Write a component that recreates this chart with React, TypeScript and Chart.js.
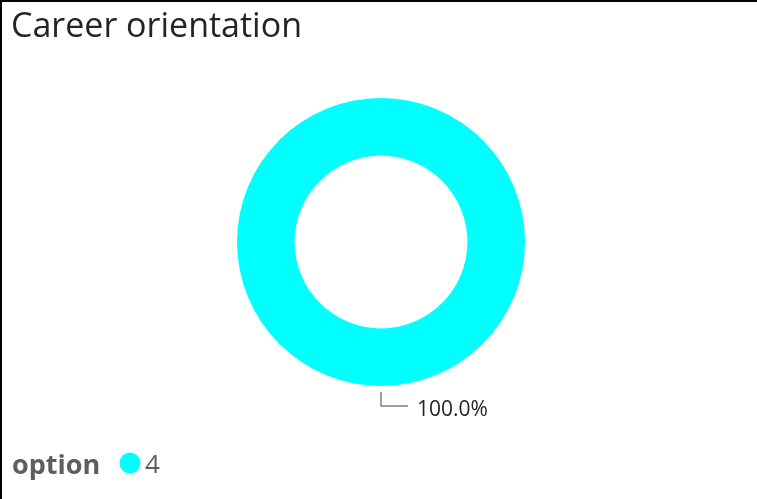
import React, { useEffect, useRef } from "react";
import { Chart, registerables } from "chart.js";

Chart.register(...registerables);

const categories = ["4"];
const values = [100];
const percentLabels = ["100.0%"];
const titleText = "Career orientation";
const legendTitle = "option";
const colors = ["#00FFFF"];

const FONT = "'Open Sans', 'DejaVu Sans', sans-serif";

export default function App() {
  const ref = useRef<HTMLCanvasElement | null>(null);
  useEffect(() => {
    document.body.style.margin = "0";
    const canvas = ref.current!;
    const overlay = {
      id: "overlay",
      afterDraw(chart: any) {
        const ctx = chart.ctx as CanvasRenderingContext2D;
        ctx.save();
        // border
        ctx.fillStyle = "#000";
        ctx.fillRect(0, 0, 757, 2);
        ctx.fillRect(0, 0, 2, 499);
        // title
        ctx.fillStyle = "#252423";
        ctx.font = `500 34px ${FONT}`;
        ctx.textBaseline = "alphabetic";
        ctx.textAlign = "left";
        ctx.fillText(titleText, 11, 37);
        // leader label
        const arc = chart.getDatasetMeta(0).data[0];
        const cx = arc.x;
        const cy = arc.y;
        const r = arc.outerRadius;
        ctx.strokeStyle = "#808080";
        ctx.lineWidth = 1.5;
        ctx.beginPath();
        ctx.moveTo(cx, cy + r + 6);
        ctx.lineTo(cx, cy + r + 20);
        ctx.lineTo(cx + 27, cy + r + 20);
        ctx.stroke();
        ctx.fillStyle = "#252423";
        ctx.font = `21px ${FONT}`;
        ctx.textBaseline = "alphabetic";
        ctx.fillText(percentLabels[0], cx + 36, cy + r + 30);
        // legend
        ctx.fillStyle = "#605E5C";
        ctx.font = `bold 27px ${FONT}`;
        ctx.fillText(legendTitle, 12, 474);
        ctx.fillStyle = colors[0];
        ctx.beginPath();
        ctx.arc(130, 463, 10.5, 0, Math.PI * 2);
        ctx.fill();
        ctx.fillStyle = "#605E5C";
        ctx.font = `26px ${FONT}`;
        ctx.fillText(categories[0], 145, 473);
        ctx.restore();
      },
    };
    const chart = new Chart(canvas, {
      type: "doughnut",
      data: {
        labels: categories,
        datasets: [
          {
            data: values,
            backgroundColor: colors,
            borderWidth: 0,
          },
        ],
      },
      options: {
        animation: false,
        responsive: false,
        cutout: "60%",
        layout: { padding: { top: 98, bottom: 113, left: 237, right: 232 } },
        plugins: {
          legend: { display: false },
          tooltip: { enabled: false },
          title: { display: false },
        },
      },
      plugins: [overlay],
    });
    return () => chart.destroy();
  }, []);
  return (
    <div style={{ width: 757, height: 499, background: "#fff" }}>
      <canvas ref={ref} width={757} height={499} style={{ display: "block" }} />
    </div>
  );
}
